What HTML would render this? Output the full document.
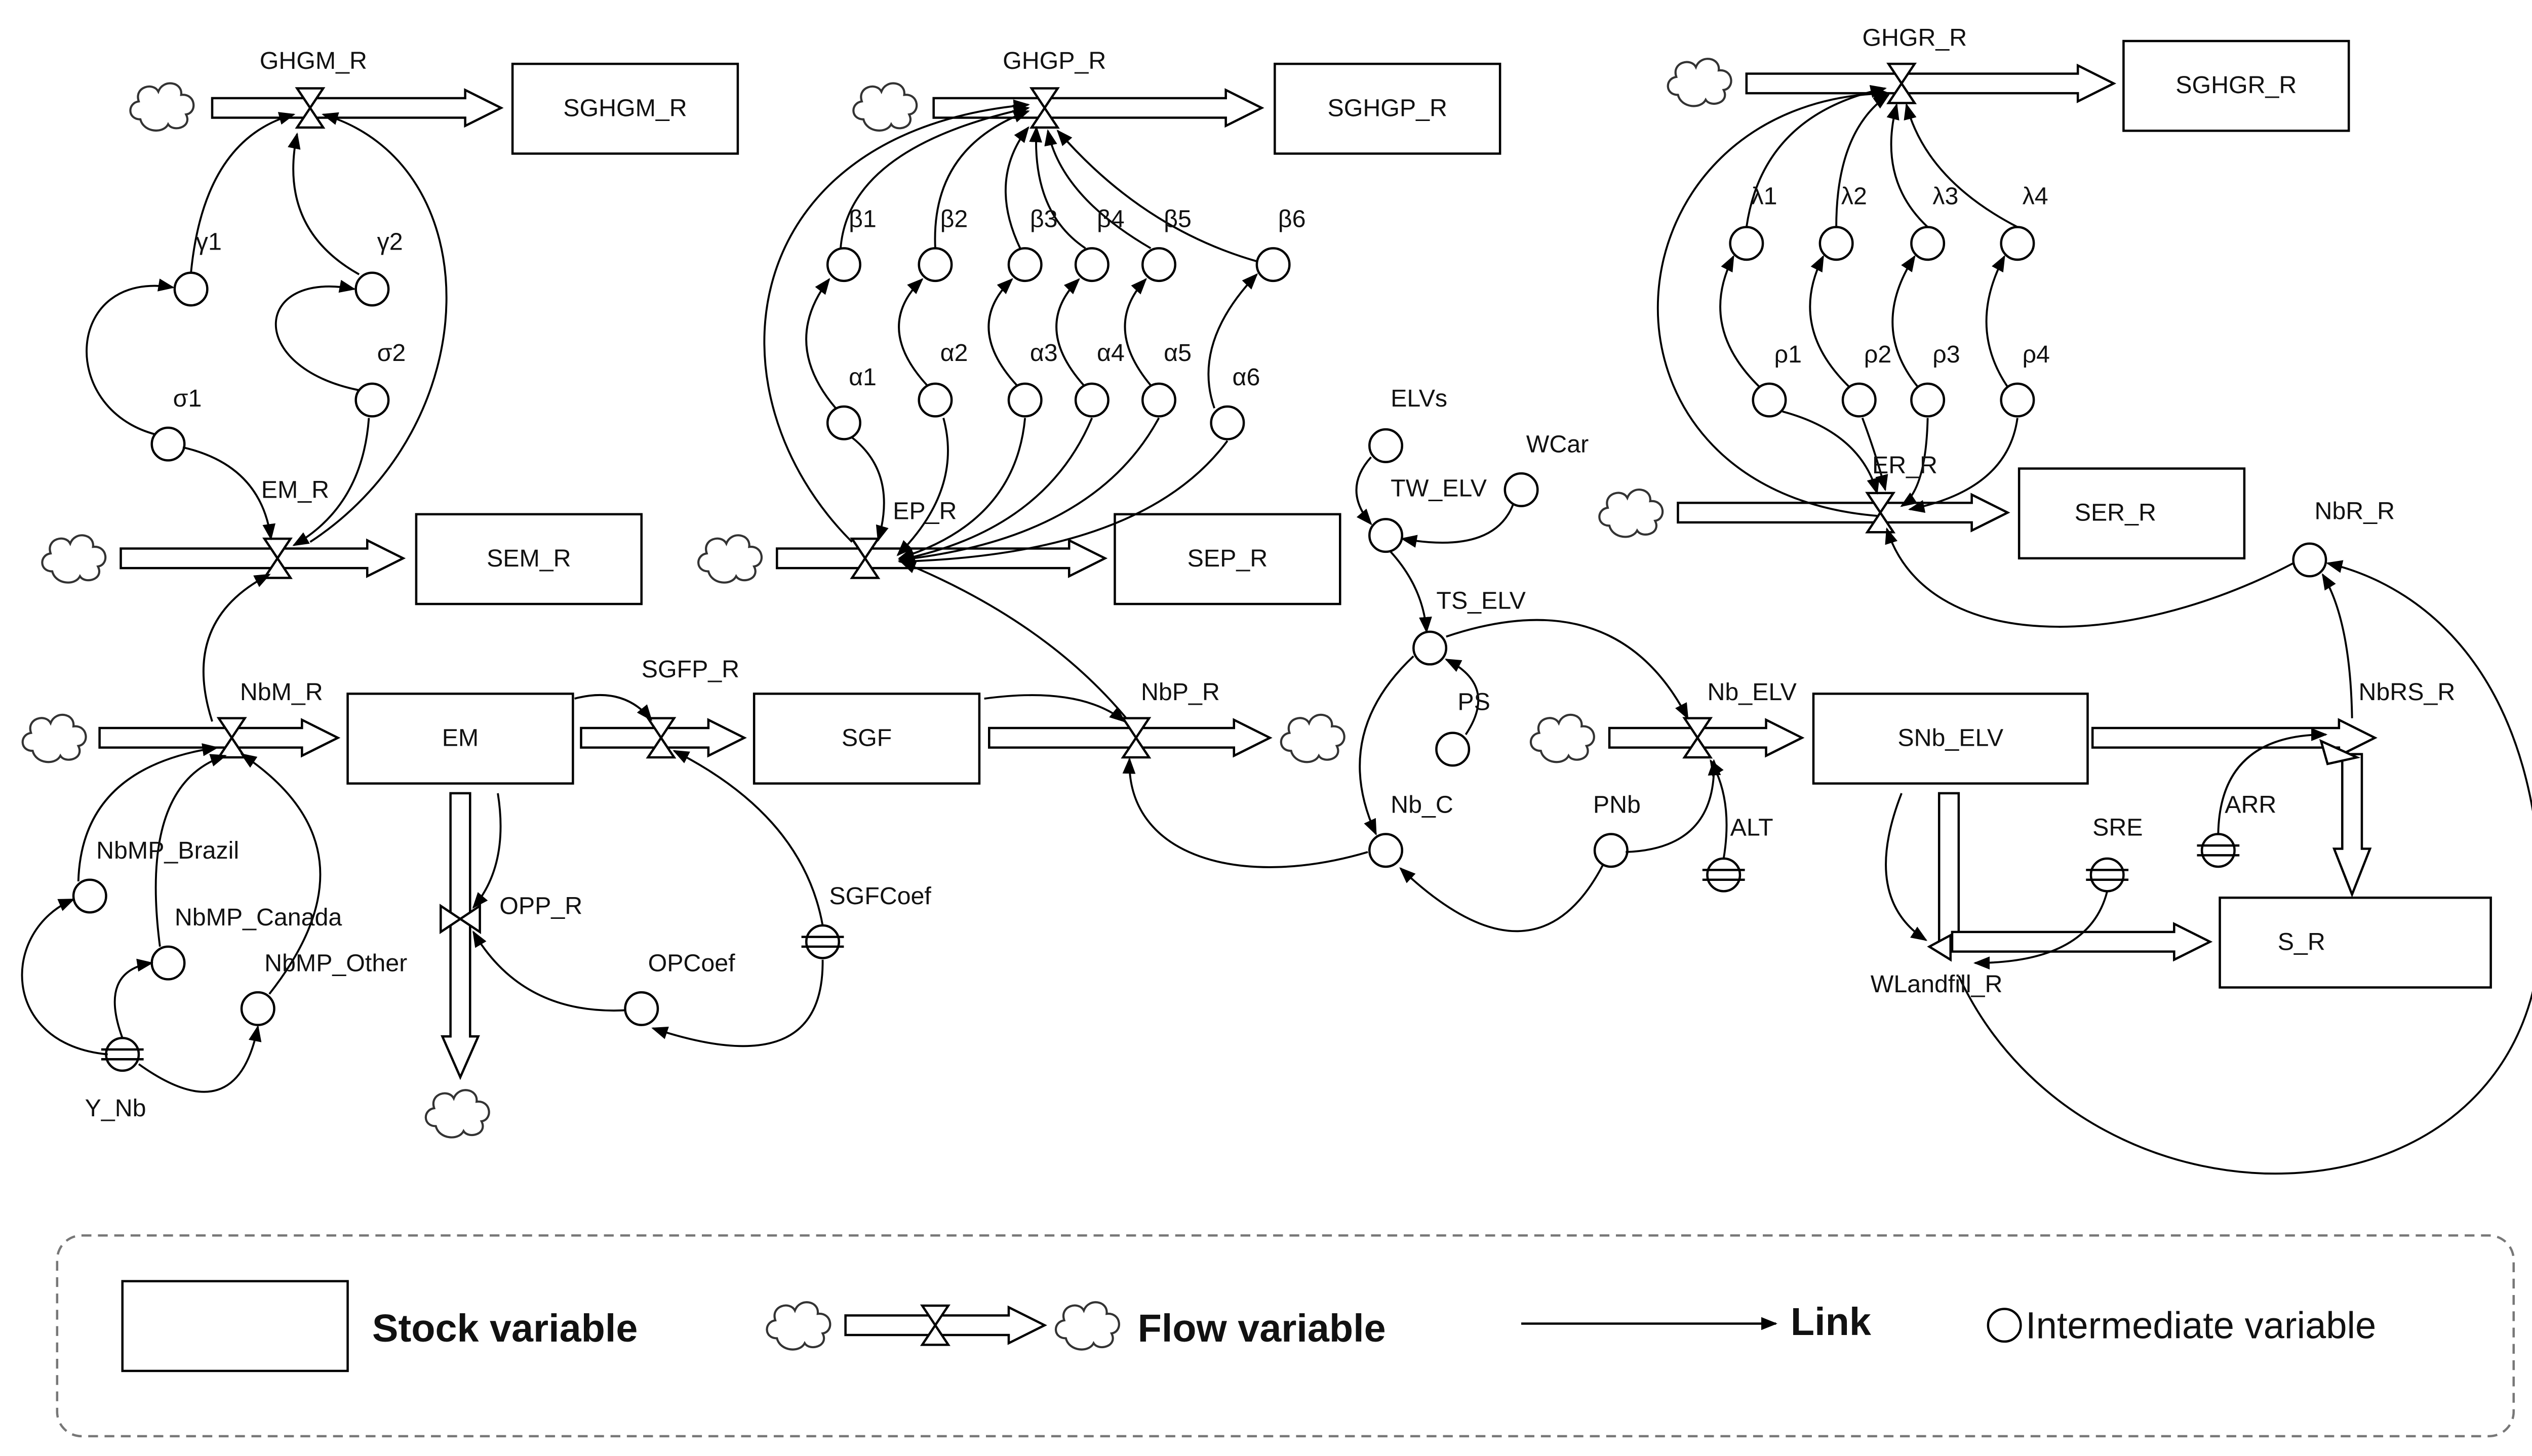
<!DOCTYPE html>
<html><head><meta charset="utf-8"><style>html,body{margin:0;padding:0;background:#fff}svg{display:block}text{font-family:"Liberation Sans",sans-serif;font-size:15px;fill:#111}</style></head>
<body>
<svg width="5054" height="2876" viewBox="0 0 1568 892" xmlns="http://www.w3.org/2000/svg">
<defs>
<marker id="a" markerWidth="10" markerHeight="8" refX="9" refY="4" orient="auto" markerUnits="userSpaceOnUse"><path d="M0,0L10,4L0,8z" fill="#000"/></marker>
<symbol id="cl" viewBox="-22 -18 44 36" overflow="visible"><path d="M-14,8 C-22,8 -22,-2 -15,-3 C-18,-12 -6,-15 -3,-9 C0,-17 12,-15 11,-7 C20,-8 21,4 14,5 C18,13 6,16 3,11 C0,17 -12,16 -14,8z" fill="#fff" stroke="#333" stroke-width="1.3"/></symbol>
</defs>
<g fill="none" stroke="#000" stroke-width="1.4">
<path fill="#fff" d="M130,60H285V55L307,66L285,77V72H130z"/>
<path fill="#fff" d="M572,60H751V55L773,66L751,77V72H572z"/>
<path fill="#fff" d="M1070,45H1273V40L1295,51L1273,62V57H1070z"/>
<path fill="#fff" d="M74,336H225V331L247,342L225,353V348H74z"/>
<path fill="#fff" d="M476,336H655V331L677,342L655,353V348H476z"/>
<path fill="#fff" d="M1028,308H1208V303L1230,314L1208,325V320H1028z"/>
<path fill="#fff" d="M61,446H185V441L207,452L185,463V458H61z"/>
<path fill="#fff" d="M356,446H434V441L456,452L434,463V458H356z"/>
<path fill="#fff" d="M606,446H756V441L778,452L756,463V458H606z"/>
<path fill="#fff" d="M986,446H1082V441L1104,452L1082,463V458H986z"/>
<path fill="#fff" d="M1282,446H1433V441L1455,452L1433,463V458H1282z"/>
<path fill="#fff" d="M1435,462H1447V520H1452L1441,548L1430,520H1435z"/>
<path fill="#fff" d="M276,486H288V635H293L282,660L271,635H276z"/>
<path fill="#fff" d="M1188,486H1200V580H1188z"/>
<path fill="#fff" d="M1196,571H1332V566L1354,577L1332,588V583H1196z"/>
<path fill="#fff" d="M1195,573L1182,580L1195,588z"/>
<path fill="#fff" d="M1422,454L1444,464L1426,468z"/>
<path fill="#fff" d="M182,54H198L190,66zM182,78H198L190,66z"/>
<path fill="#fff" d="M632,54H648L640,66zM632,78H648L640,66z"/>
<path fill="#fff" d="M1157,39H1173L1165,51zM1157,63H1173L1165,51z"/>
<path fill="#fff" d="M162,330H178L170,342zM162,354H178L170,342z"/>
<path fill="#fff" d="M522,330H538L530,342zM522,354H538L530,342z"/>
<path fill="#fff" d="M1144,302H1160L1152,314zM1144,326H1160L1152,314z"/>
<path fill="#fff" d="M134,440H150L142,452zM134,464H150L142,452z"/>
<path fill="#fff" d="M397,440H413L405,452zM397,464H413L405,452z"/>
<path fill="#fff" d="M688,440H704L696,452zM688,464H704L696,452z"/>
<path fill="#fff" d="M1032,440H1048L1040,452zM1032,464H1048L1040,452z"/>
<path fill="#fff" d="M270,555V571L282,563zM294,555V571L282,563z"/>
<rect x="314" y="39" width="138" height="55"/><rect x="781" y="39" width="138" height="55"/><rect x="1301" y="25" width="138" height="55"/>
<rect x="255" y="315" width="138" height="55"/><rect x="683" y="315" width="138" height="55"/><rect x="1237" y="287" width="138" height="55"/>
<rect x="213" y="425" width="138" height="55"/><rect x="462" y="425" width="138" height="55"/><rect x="1111" y="425" width="168" height="55"/>
<rect x="1360" y="550" width="166" height="55"/>
<g fill="#fff">
<circle cx="117" cy="177" r="10"/><circle cx="228" cy="177" r="10"/><circle cx="228" cy="245" r="10"/><circle cx="103" cy="272" r="10"/>
<circle cx="517" cy="162" r="10"/><circle cx="573" cy="162" r="10"/><circle cx="628" cy="162" r="10"/><circle cx="669" cy="162" r="10"/><circle cx="710" cy="162" r="10"/><circle cx="780" cy="162" r="10"/>
<circle cx="517" cy="259" r="10"/><circle cx="573" cy="245" r="10"/><circle cx="628" cy="245" r="10"/><circle cx="669" cy="245" r="10"/><circle cx="710" cy="245" r="10"/><circle cx="752" cy="259" r="10"/>
<circle cx="1070" cy="149" r="10"/><circle cx="1125" cy="149" r="10"/><circle cx="1181" cy="149" r="10"/><circle cx="1236" cy="149" r="10"/>
<circle cx="1084" cy="245" r="10"/><circle cx="1139" cy="245" r="10"/><circle cx="1181" cy="245" r="10"/><circle cx="1236" cy="245" r="10"/>
<circle cx="849" cy="273" r="10"/><circle cx="932" cy="300" r="10"/><circle cx="849" cy="328" r="10"/><circle cx="876" cy="397" r="10"/><circle cx="890" cy="459" r="10"/>
<circle cx="849" cy="521" r="10"/><circle cx="987" cy="521" r="10"/><circle cx="1415" cy="343" r="10"/>
<circle cx="55" cy="549" r="10"/><circle cx="103" cy="590" r="10"/><circle cx="158" cy="618" r="10"/><circle cx="393" cy="618" r="10"/>
<g><circle cx="75" cy="646" r="10"/><path d="M62,643H88M62,649H88"/></g>
<g><circle cx="504" cy="577" r="10"/><path d="M491,574H517M491,580H517"/></g>
<g><circle cx="1056" cy="536" r="10"/><path d="M1043,533H1069M1043,539H1069"/></g>
<g><circle cx="1291" cy="536" r="10"/><path d="M1278,533H1304M1278,539H1304"/></g>
<g><circle cx="1359" cy="521" r="10"/><path d="M1346,518H1372M1346,524H1372"/></g>
</g>
<g stroke-width="1.2" marker-end="url(#a)">
<path d="M117,167 Q125,85 180,70"/><path d="M95,266 C35,250 40,165 106,176"/><path d="M220,239 C150,225 155,165 217,177"/>
<path d="M220,168 Q170,140 182,82"/><path d="M112,274 Q160,285 166,330"/><path d="M226,256 Q222,310 180,334"/>
<path d="M190,332 C300,260 300,100 198,70"/><path d="M130,442 Q110,380 165,352"/>
<path d="M66,646 C0,640 0,570 45,551"/><path d="M75,636 Q60,595 93,590"/><path d="M85,652 Q145,695 158,629"/>
<path d="M48,540 Q50,470 133,458"/><path d="M98,580 Q85,480 138,463"/><path d="M165,609 Q235,520 148,462"/>
<path d="M352,428 Q382,420 399,441"/><path d="M504,567 Q492,500 413,460"/><path d="M305,486 Q312,530 290,556"/>
<path d="M383,619 Q320,622 290,571"/><path d="M504,588 Q505,665 400,630"/>
<path d="M603,428 Q662,420 689,442"/><path d="M838,522 C760,545 690,525 692,465"/><path d="M690,440 Q640,380 552,344"/>
<path d="M522,268 Q550,290 538,331"/><path d="M578,256 Q590,300 550,340"/><path d="M628,256 Q622,320 551,342"/><path d="M669,256 Q640,325 551,343"/><path d="M710,256 Q670,330 551,343"/><path d="M752,270 Q700,340 551,344"/>
<path d="M512,250 Q478,210 508,171"/><path d="M568,236 Q535,200 565,171"/><path d="M623,236 Q590,200 620,171"/><path d="M664,236 Q632,200 661,171"/><path d="M705,236 Q675,200 702,171"/><path d="M744,250 Q730,210 770,168"/>
<path d="M515,152 Q520,90 630,66"/><path d="M573,152 Q570,90 630,68"/><path d="M625,152 Q605,110 630,78"/><path d="M665,152 Q632,130 635,78"/><path d="M705,152 Q650,120 642,80"/><path d="M770,160 Q700,140 648,80"/>
<path d="M522,332 C430,240 450,80 630,64"/>
<path d="M1070,139 Q1080,70 1155,54"/><path d="M1125,139 Q1125,80 1157,58"/><path d="M1181,139 Q1150,110 1162,64"/><path d="M1236,139 Q1180,110 1168,64"/>
<path d="M1078,237 Q1040,200 1062,157"/><path d="M1133,237 Q1095,200 1117,157"/><path d="M1175,237 Q1145,200 1173,157"/><path d="M1230,237 Q1205,200 1228,157"/>
<path d="M1092,252 Q1140,265 1150,302"/><path d="M1141,256 Q1150,280 1155,300"/><path d="M1181,256 Q1180,300 1165,310"/><path d="M1236,256 Q1230,300 1170,312"/>
<path d="M1150,316 C960,300 980,60 1157,57"/><path d="M1405,345 C1300,400 1180,400 1156,324"/>
<path d="M1441,440 Q1440,380 1423,352"/><path d="M1359,511 Q1360,450 1425,450"/>
<path d="M1200,598 C1280,770 1560,760 1557,560 C1557,420 1490,360 1426,345"/>
<path d="M1165,486 Q1140,550 1180,576"/><path d="M1291,546 Q1280,590 1210,590"/>
<path d="M886,390 Q990,355 1034,440"/><path d="M866,402 Q815,450 843,511"/><path d="M898,450 Q918,420 886,404"/>
<path d="M840,280 Q822,300 840,321"/><path d="M927,309 Q915,340 859,330"/><path d="M852,338 Q872,360 874,387"/>
<path d="M996,522 Q1052,520 1050,466"/><path d="M1056,526 Q1062,490 1048,466"/><path d="M982,530 Q940,610 858,532"/>
</g>
<rect x="35" y="757" width="1505" height="123" rx="15" stroke="#777" stroke-dasharray="6,4"/>
<rect x="75" y="785" width="138" height="55"/>
<path fill="#fff" d="M518,806H618V801L640,812L618,823V818H518z"/>
<path fill="#fff" d="M565,800H581L573,812zM565,824H581L573,812z"/>
<path d="M932,811H1088" marker-end="url(#a)"/>
<circle cx="1228" cy="812" r="10"/>
</g>
<g>
<use href="#cl" x="78" y="47" width="44" height="36"/><use href="#cl" x="521" y="47" width="44" height="36"/><use href="#cl" x="1020" y="32" width="44" height="36"/>
<use href="#cl" x="24" y="324" width="44" height="36"/><use href="#cl" x="426" y="324" width="44" height="36"/><use href="#cl" x="978" y="296" width="44" height="36"/>
<use href="#cl" x="12" y="434" width="44" height="36"/><use href="#cl" x="783" y="434" width="44" height="36"/><use href="#cl" x="936" y="434" width="44" height="36"/>
<use href="#cl" x="259" y="664" width="44" height="36"/><use href="#cl" x="468" y="794" width="44" height="36"/><use href="#cl" x="645" y="794" width="44" height="36"/>
</g>
<g text-anchor="middle">
<text x="383" y="71">SGHGM_R</text><text x="850" y="71">SGHGP_R</text><text x="1370" y="57">SGHGR_R</text>
<text x="324" y="347">SEM_R</text><text x="752" y="347">SEP_R</text><text x="1296" y="319">SER_R</text>
<text x="282" y="457">EM</text><text x="531" y="457">SGF</text><text x="1195" y="457">SNb_ELV</text><text x="1410" y="582">S_R</text>
<text x="192" y="42">GHGM_R</text><text x="646" y="42">GHGP_R</text><text x="1173" y="28">GHGR_R</text>
</g>
<g>
<text x="120" y="153">γ1</text><text x="231" y="153">γ2</text><text x="231" y="221">σ2</text><text x="106" y="249">σ1</text>
<text x="160" y="305">EM_R</text><text x="547" y="318">EP_R</text><text x="1147" y="290">ER_R</text>
<text x="520" y="139">β1</text><text x="576" y="139">β2</text><text x="631" y="139">β3</text><text x="672" y="139">β4</text><text x="713" y="139">β5</text><text x="783" y="139">β6</text>
<text x="520" y="236">α1</text><text x="576" y="221">α2</text><text x="631" y="221">α3</text><text x="672" y="221">α4</text><text x="713" y="221">α5</text><text x="755" y="236">α6</text>
<text x="1073" y="125">λ1</text><text x="1128" y="125">λ2</text><text x="1184" y="125">λ3</text><text x="1239" y="125">λ4</text>
<text x="1087" y="222">ρ1</text><text x="1142" y="222">ρ2</text><text x="1184" y="222">ρ3</text><text x="1239" y="222">ρ4</text>
<text x="852" y="249">ELVs</text><text x="935" y="277">WCar</text><text x="852" y="304">TW_ELV</text><text x="880" y="373">TS_ELV</text><text x="893" y="435">PS</text>
<text x="852" y="498">Nb_C</text><text x="976" y="498">PNb</text><text x="1060" y="512">ALT</text><text x="1418" y="318">NbR_R</text><text x="1445" y="429">NbRS_R</text>
<text x="1282" y="512">SRE</text><text x="1363" y="498">ARR</text><text x="1146" y="608">WLandfill_R</text>
<text x="147" y="429">NbM_R</text><text x="393" y="415">SGFP_R</text><text x="699" y="429">NbP_R</text><text x="1046" y="429">Nb_ELV</text>
<text x="306" y="560">OPP_R</text><text x="397" y="595">OPCoef</text><text x="508" y="554">SGFCoef</text>
<text x="59" y="526">NbMP_Brazil</text><text x="107" y="567">NbMP_Canada</text><text x="162" y="595">NbMP_Other</text><text x="52" y="684">Y_Nb</text>
<text x="228" y="822" style="font-size:24px;font-weight:bold">Stock variable</text>
<text x="697" y="822" style="font-size:24px;font-weight:bold">Flow variable</text>
<text x="1097" y="818" style="font-size:24px;font-weight:bold">Link</text>
<text x="1241" y="820" style="font-size:23px">Intermediate  variable</text>
</g>
</svg>
</body></html>
